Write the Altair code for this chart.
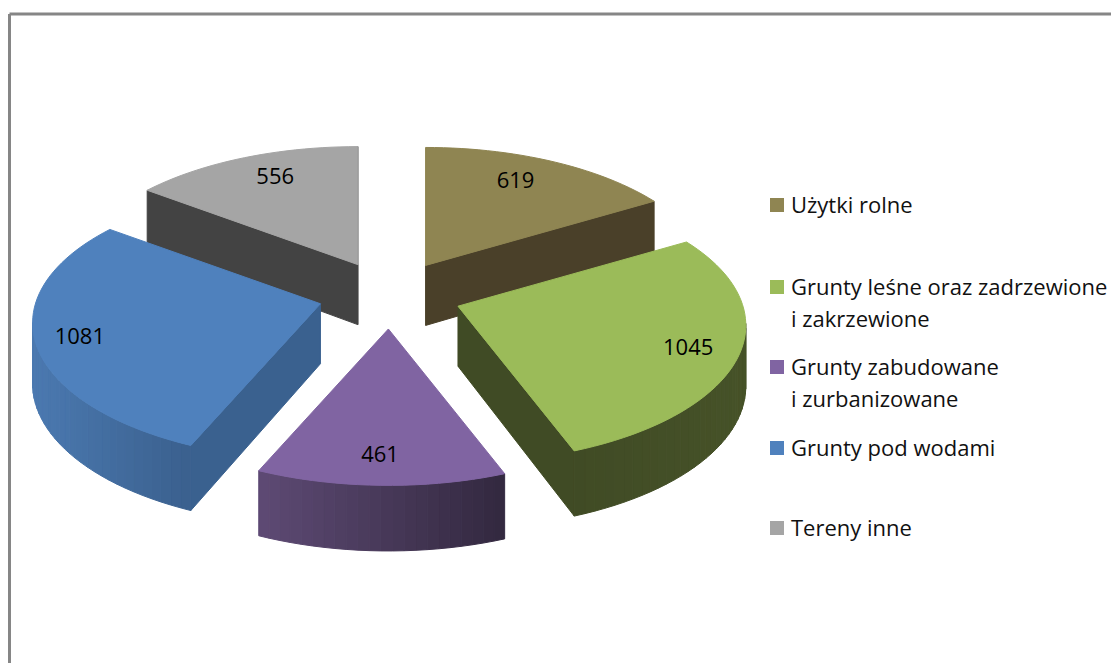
import math
import altair as alt
import pandas as pd

# ---- chart data ----
categories = ["Użytki rolne", "Grunty leśne oraz zadrzewione\ni zakrzewione",
              "Grunty zabudowane\ni zurbanizowane", "Grunty pod wodami", "Tereny inne"]
values = [619, 1045, 461, 1081, 556]
top_colors = ["#8f8552", "#9bbb59", "#8064a2", "#4f81bd", "#a5a5a5"]
# wall shading: radial wall, rim at its left end, rim at its right end
radial_colors = ["#4a4029", "#404b25", "#4a3a5e", "#3a618f", "#434343"]
rim_left = ["#4a4029", "#404b25", "#5e4a74", "#4b79b0", "#434343"]
rim_right = ["#4a4029", "#465228", "#32283f", "#3a608e", "#434343"]
label_radius = [0.77, 0.83, 0.83, 0.85, 0.787]
label_shift = [-2.9, 2.0, 0.5, -1.3, 2.7]
legend_y = [205, 287, 367, 448, 528]
draw_order = [4, 0, 3, 1, 2]

# ---- 3D projection settings ----
CX, CY = 390, 295       # pie centre on the page
EX, EY = 72, 34         # explosion distance
RX, RY, K = 285, 134.5, 0.14
DEPTH = 60
FONT = "Open Sans"
FS = 22
PAGE_W, PAGE_H = 1103, 655


def hexmix(a, b, t):
    ca = [int(a[i:i + 2], 16) for i in (1, 3, 5)]
    cb = [int(b[i:i + 2], 16) for i in (1, 3, 5)]
    return "#" + "".join(f"{round(x + (y - x) * t):02x}" for x, y in zip(ca, cb))


def project(apex, theta, r=1.0):
    u, v = r * math.sin(theta), -r * math.cos(theta)
    d = 1 - K * v
    return apex[0] + RX * u / d, apex[1] + RY * v / d


def drop(p, theta=None):
    v = -math.cos(theta) if theta is not None else 0
    return p[0], p[1] + DEPTH / (1 - 0.085 * v)


total = sum(values)
rows, labels = [], []
pid = 0


def add_poly(points, fill):
    global pid
    pid += 1
    for i, (x, y) in enumerate(points + points[:1]):
        rows.append({"poly": pid, "i": i, "x": x, "y": y, "fill": fill})


starts, a = [], 0.0
for value in values:
    starts.append(a)
    a += value / total * 2 * math.pi

for s in draw_order:
    t0 = starts[s]
    t1 = t0 + values[s] / total * 2 * math.pi
    mid = (t0 + t1) / 2
    apex = (CX + EX * math.sin(mid), CY - EY * math.cos(mid))
    n = max(6, int((t1 - t0) / math.radians(2)))
    thetas = [t0 + (t1 - t0) * j / n for j in range(n + 1)]
    rim = [project(apex, t) for t in thetas]
    for p, q, tp, tq in [(apex, rim[0], None, thetas[0]), (rim[-1], apex, thetas[-1], None)]:
        if q[0] < p[0]:
            add_poly([p, q, drop(q, tq), drop(p, tp)], radial_colors[s])
    visible = [j for j in range(n) if rim[j + 1][0] < rim[j][0]]
    if visible:
        xs = [rim[j][0] for j in visible] + [rim[j + 1][0] for j in visible]
        xmin, xmax = min(xs), max(xs)
        for j in visible:
            p, q = rim[j], rim[j + 1]
            tt = ((p[0] + q[0]) / 2 - xmin) / max(xmax - xmin, 1)
            add_poly([p, q, drop(q, thetas[j + 1]), drop(p, thetas[j])],
                     hexmix(rim_left[s], rim_right[s], tt))
    add_poly([apex] + rim, top_colors[s])
    lx, ly = project(apex, mid + math.radians(label_shift[s]), label_radius[s])
    labels.append({"x": lx, "y": ly, "text": str(values[s])})

polys = pd.DataFrame(rows)
value_labels = pd.DataFrame(labels)

legend_rows, legend_text = [], []
for cat, col, y in zip(categories, top_colors, legend_y):
    legend_rows.append({"x": 777, "y": y, "fill": col})
    parts = cat.split("\n")
    legend_text.append({"x": 791, "y": y + 8, "text": parts[0]})
    if len(parts) == 2:
        legend_text.append({"x": 791, "y": y + 40, "text": parts[1]})
legend_marks = pd.DataFrame(legend_rows)
legend_labels = pd.DataFrame(legend_text)

X = alt.Scale(domain=[8, 8 + PAGE_W], range=[0, PAGE_W], nice=False, zero=False)
Y = alt.Scale(domain=[8 + PAGE_H, 8], range=[PAGE_H, 0], nice=False, zero=False)
xq = lambda f="x": alt.X(f"{f}:Q", scale=X, axis=None)
yq = lambda f="y": alt.Y(f"{f}:Q", scale=Y, axis=None)

frame = pd.DataFrame({"x": [9.5, 9.5], "x2": [9.5, 8 + PAGE_W], "y": [14, 14], "y2": [8 + PAGE_H, 14]})
frame_layer = alt.Chart(frame).mark_rule(color="#868686", strokeWidth=3).encode(
    x=xq(), y=yq(), x2="x2:Q", y2="y2:Q")

pie = alt.Chart(polys).mark_line(interpolate="linear", strokeWidth=1, strokeJoin="round").encode(
    x=xq(), y=yq(),
    detail="poly:N",
    order="i:Q",
    fill=alt.Fill("fill:N", scale=None),
    stroke=alt.Stroke("fill:N", scale=None),
)

text_labels = alt.Chart(value_labels).mark_text(font=FONT, fontSize=FS, color="#000000").encode(
    x=xq(), y=yq(), text="text:N")
swatches = alt.Chart(legend_marks).mark_point(shape="square", filled=True, size=196, opacity=1).encode(
    x=xq(), y=yq(), fill=alt.Fill("fill:N", scale=None))
legend_txt = alt.Chart(legend_labels).mark_text(font=FONT, fontSize=FS, align="left", baseline="alphabetic",
                                                color="#111111").encode(
    x=xq(), y=yq(), text="text:N")

chart = alt.layer(frame_layer, pie, text_labels, swatches, legend_txt).properties(
    width=PAGE_W, height=PAGE_H, padding=0,
    autosize=alt.AutoSizeParams(type="none"),
    background="#ffffff",
).configure_view(stroke=None)

chart.save("out.html", embed_options={"renderer": "svg", "actions": False})
